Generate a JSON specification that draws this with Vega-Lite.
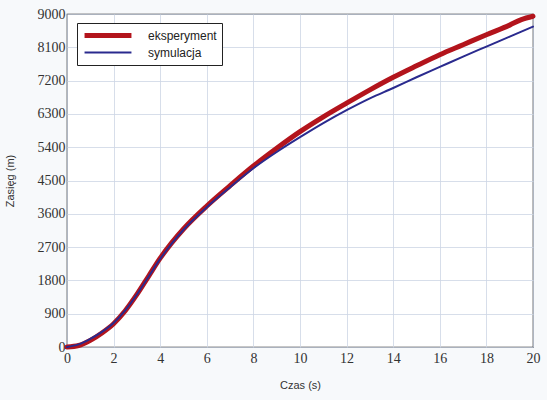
{
  "$schema": "https://vega.github.io/schema/vega-lite/v6.json",
  "width": 466,
  "height": 333,
  "autosize": {"type": "none"},
  "padding": {"left": 67, "top": 14, "right": 14, "bottom": 53},
  "background": "#f7f9fb",
  "config": {
    "view": {"fill": "#ffffff", "stroke": "#222222", "strokeWidth": 1.2},
    "axis": {
      "gridColor": "#cdd5e4",
      "gridWidth": 0.8,
      "domain": false,
      "ticks": false,
      "labelColor": "#333333",
      "titleFont": "Liberation Sans",
      "titleFontSize": 11,
      "titleFontWeight": "normal",
      "titleColor": "#333333"
    }
  },
  "data": {
    "values": [
      {"t": 0, "v": 0, "s": "eksperyment"},
      {"t": 0.5, "v": 40, "s": "eksperyment"},
      {"t": 1, "v": 180, "s": "eksperyment"},
      {"t": 1.5, "v": 380, "s": "eksperyment"},
      {"t": 2, "v": 630, "s": "eksperyment"},
      {"t": 2.5, "v": 980, "s": "eksperyment"},
      {"t": 3, "v": 1420, "s": "eksperyment"},
      {"t": 3.5, "v": 1910, "s": "eksperyment"},
      {"t": 4, "v": 2400, "s": "eksperyment"},
      {"t": 4.5, "v": 2820, "s": "eksperyment"},
      {"t": 5, "v": 3190, "s": "eksperyment"},
      {"t": 6, "v": 3810, "s": "eksperyment"},
      {"t": 7, "v": 4360, "s": "eksperyment"},
      {"t": 8, "v": 4890, "s": "eksperyment"},
      {"t": 9, "v": 5370, "s": "eksperyment"},
      {"t": 10, "v": 5820, "s": "eksperyment"},
      {"t": 11, "v": 6220, "s": "eksperyment"},
      {"t": 12, "v": 6590, "s": "eksperyment"},
      {"t": 13, "v": 6950, "s": "eksperyment"},
      {"t": 14, "v": 7290, "s": "eksperyment"},
      {"t": 15, "v": 7600, "s": "eksperyment"},
      {"t": 16, "v": 7900, "s": "eksperyment"},
      {"t": 17, "v": 8170, "s": "eksperyment"},
      {"t": 18, "v": 8440, "s": "eksperyment"},
      {"t": 19, "v": 8700, "s": "eksperyment"},
      {"t": 19.5, "v": 8850, "s": "eksperyment"},
      {"t": 20, "v": 8940, "s": "eksperyment"},
      {"t": 0, "v": 0, "s": "symulacja"},
      {"t": 0.5, "v": 70, "s": "symulacja"},
      {"t": 1, "v": 220, "s": "symulacja"},
      {"t": 1.5, "v": 410, "s": "symulacja"},
      {"t": 2, "v": 650, "s": "symulacja"},
      {"t": 2.5, "v": 990, "s": "symulacja"},
      {"t": 3, "v": 1420, "s": "symulacja"},
      {"t": 3.5, "v": 1900, "s": "symulacja"},
      {"t": 4, "v": 2380, "s": "symulacja"},
      {"t": 4.5, "v": 2800, "s": "symulacja"},
      {"t": 5, "v": 3170, "s": "symulacja"},
      {"t": 6, "v": 3780, "s": "symulacja"},
      {"t": 7, "v": 4320, "s": "symulacja"},
      {"t": 8, "v": 4830, "s": "symulacja"},
      {"t": 9, "v": 5270, "s": "symulacja"},
      {"t": 10, "v": 5670, "s": "symulacja"},
      {"t": 11, "v": 6050, "s": "symulacja"},
      {"t": 12, "v": 6400, "s": "symulacja"},
      {"t": 13, "v": 6720, "s": "symulacja"},
      {"t": 14, "v": 7000, "s": "symulacja"},
      {"t": 15, "v": 7290, "s": "symulacja"},
      {"t": 16, "v": 7570, "s": "symulacja"},
      {"t": 17, "v": 7850, "s": "symulacja"},
      {"t": 18, "v": 8120, "s": "symulacja"},
      {"t": 19, "v": 8390, "s": "symulacja"},
      {"t": 20, "v": 8660, "s": "symulacja"}
    ]
  },
  "mark": {"type": "line", "interpolate": "monotone", "strokeCap": "round"},
  "encoding": {
    "x": {
      "field": "t", "type": "quantitative", "title": "Czas (s)",
      "scale": {"domain": [0, 20], "nice": false},
      "axis": {"values": [0, 2, 4, 6, 8, 10, 12, 14, 16, 18, 20], "format": "d", "labelFont": "Liberation Serif", "labelFontSize": 14, "labelPadding": 4, "titlePadding": 14, "labelFlush": false}
    },
    "y": {
      "field": "v", "type": "quantitative", "title": "Zasięg (m)",
      "scale": {"domain": [0, 9000], "nice": false},
      "axis": {"values": [0, 900, 1800, 2700, 3600, 4500, 5400, 6300, 7200, 8100, 9000], "format": "d", "labelFont": "Liberation Serif", "labelFontSize": 14, "labelPadding": 2, "titlePadding": 22}
    },
    "color": {
      "field": "s", "type": "nominal",
      "scale": {"domain": ["eksperyment", "symulacja"], "range": ["#b3141c", "#2a2a8e"]},
      "legend": {
        "title": null,
        "orient": "none",
        "legendX": 10,
        "legendY": 9,
        "symbolType": "stroke",
        "symbolSize": 2200,
        "clipHeight": 15,
        "labelFont": "Liberation Sans",
        "labelFontSize": 12,
        "labelColor": "#222222",
        "fillColor": "#ffffff",
        "strokeColor": "#222222",
        "padding": 5,
        "rowPadding": 2,
        "labelOffset": 14,
        "labelLimit": 300
      }
    },
    "strokeWidth": {
      "field": "s", "type": "nominal",
      "scale": {"domain": ["eksperyment", "symulacja"], "range": [5, 2]},
      "legend": null
    }
  }
}
